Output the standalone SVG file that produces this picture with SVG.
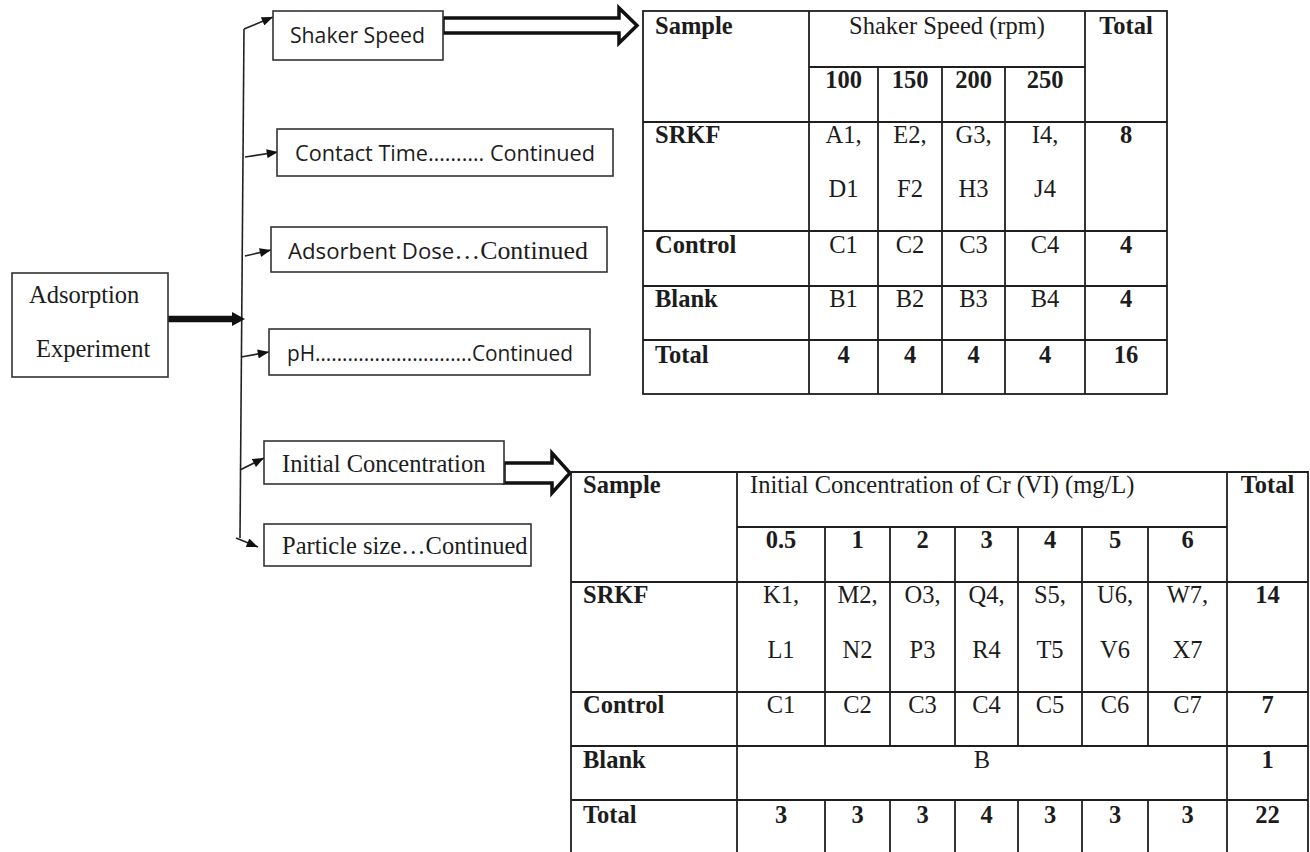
<svg xmlns="http://www.w3.org/2000/svg" width="1310" height="852" viewBox="0 0 1310 852">
<defs>
<marker id="ah" viewBox="0 0 10 8" refX="10" refY="4" markerWidth="12" markerHeight="9" markerUnits="userSpaceOnUse" orient="auto">
<path d="M0,0 L10,4 L0,8 Z" fill="#111"/>
</marker>
</defs>
<style>
.box{fill:#fff;stroke:#333;stroke-width:1.6}
.sans{font-family:"Open Sans","Liberation Sans",sans-serif;font-size:21px;fill:#1c1c1c}
.serif{font-family:"Liberation Serif","Times New Roman",serif;font-size:24.5px;fill:#1c1c1c}
.b{font-weight:bold}
.c{text-anchor:middle}
.tl{stroke:#1f1f1f;stroke-width:1.8;fill:none}
.conn{stroke:#222;stroke-width:1.6;fill:none}
.hollow{fill:#fff;stroke:#111;stroke-width:3.5;stroke-linejoin:miter}
</style>
<rect width="1310" height="852" fill="#fff"/>

<g id="connectors">
<path class="conn" d="M244,29 L240,538"/>
<line class="conn" x1="244" y1="29" x2="273" y2="17" marker-end="url(#ah)"/>
<line class="conn" x1="245" y1="157" x2="278" y2="152" marker-end="url(#ah)"/>
<line class="conn" x1="245" y1="256" x2="271" y2="250" marker-end="url(#ah)"/>
<line class="conn" x1="241" y1="357" x2="269" y2="352" marker-end="url(#ah)"/>
<line class="conn" x1="240" y1="470" x2="264" y2="458" marker-end="url(#ah)"/>
<line class="conn" x1="236" y1="538" x2="258" y2="547" marker-end="url(#ah)"/>
<line x1="168" y1="319" x2="234" y2="319" stroke="#111" stroke-width="6.5"/>
<path d="M232,312 L245,319 L232,326 Z" fill="#111"/>
<path class="hollow" d="M443,18 L619,18 L619,8 L637,25.5 L619,43 L619,33 L443,33 Z"/>
<path class="hollow" d="M504,463 L552,463 L552,453 L570,473 L552,493 L552,483 L504,483 Z"/>
</g>

<g id="node-adsorption">
<rect class="box" x="12" y="273" width="156" height="104"/>
<text class="serif" x="29" y="303">Adsorption</text>
<text class="serif" x="36" y="357">Experiment</text>
</g>

<g id="node-shaker">
<rect class="box" x="273" y="11" width="170" height="49"/>
<text class="sans" x="290" y="43" textLength="135" lengthAdjust="spacingAndGlyphs">Shaker Speed</text>
</g>

<g id="node-contact">
<rect class="box" x="277" y="129" width="336" height="47"/>
<text class="sans" x="295" y="161" textLength="300" lengthAdjust="spacingAndGlyphs">Contact Time………. Continued</text>
</g>

<g id="node-adsorbent">
<rect class="box" x="271" y="227" width="336" height="45"/>
<text class="sans" x="288" y="259" textLength="300" lengthAdjust="spacingAndGlyphs">Adsorbent Dose<tspan style="font-family:'Liberation Serif','Times New Roman',serif;font-size:24.5px">…Continued</tspan></text>
</g>

<g id="node-ph">
<rect class="box" x="269" y="329" width="321" height="46"/>
<text class="sans" x="287" y="361" textLength="286" lengthAdjust="spacingAndGlyphs">pH………………………..Continued</text>
</g>

<g id="node-initial">
<rect class="box" x="264" y="441" width="240" height="43"/>
<text class="serif" x="282" y="472">Initial Concentration</text>
</g>

<g id="node-particle">
<rect class="box" x="264" y="524" width="267" height="42"/>
<text class="serif" x="282" y="554">Particle size…Continued</text>
</g>

<g id="table-shaker">
<rect class="tl" x="643" y="11" width="524" height="383"/>
<line class="tl" x1="809" y1="11" x2="809" y2="394"/>
<line class="tl" x1="1085" y1="11" x2="1085" y2="394"/>
<line class="tl" x1="809" y1="67" x2="1085" y2="67"/>
<line class="tl" x1="878" y1="67" x2="878" y2="394"/>
<line class="tl" x1="942" y1="67" x2="942" y2="394"/>
<line class="tl" x1="1005" y1="67" x2="1005" y2="394"/>
<line class="tl" x1="643" y1="122" x2="1167" y2="122"/>
<line class="tl" x1="643" y1="231" x2="1167" y2="231"/>
<line class="tl" x1="643" y1="286" x2="1167" y2="286"/>
<line class="tl" x1="643" y1="340" x2="1167" y2="340"/>
<text class="serif b" x="655" y="34">Sample</text>
<text class="serif c" x="947" y="34">Shaker Speed (rpm)</text>
<text class="serif b c" x="1126" y="34">Total</text>
<text class="serif b c" x="843.5" y="88">100</text>
<text class="serif b c" x="910" y="88">150</text>
<text class="serif b c" x="973.5" y="88">200</text>
<text class="serif b c" x="1045" y="88">250</text>
<text class="serif b" x="655" y="143">SRKF</text>
<text class="serif c" x="843.5" y="143">A1,</text>
<text class="serif c" x="910" y="143">E2,</text>
<text class="serif c" x="973.5" y="143">G3,</text>
<text class="serif c" x="1045" y="143">I4,</text>
<text class="serif b c" x="1126" y="143">8</text>
<text class="serif c" x="843.5" y="197">D1</text>
<text class="serif c" x="910" y="197">F2</text>
<text class="serif c" x="973.5" y="197">H3</text>
<text class="serif c" x="1045" y="197">J4</text>
<text class="serif b" x="655" y="253">Control</text>
<text class="serif c" x="843.5" y="253">C1</text>
<text class="serif c" x="910" y="253">C2</text>
<text class="serif c" x="973.5" y="253">C3</text>
<text class="serif c" x="1045" y="253">C4</text>
<text class="serif b c" x="1126" y="253">4</text>
<text class="serif b" x="655" y="307">Blank</text>
<text class="serif c" x="843.5" y="307">B1</text>
<text class="serif c" x="910" y="307">B2</text>
<text class="serif c" x="973.5" y="307">B3</text>
<text class="serif c" x="1045" y="307">B4</text>
<text class="serif b c" x="1126" y="307">4</text>
<text class="serif b" x="655" y="363">Total</text>
<text class="serif b c" x="843.5" y="363">4</text>
<text class="serif b c" x="910" y="363">4</text>
<text class="serif b c" x="973.5" y="363">4</text>
<text class="serif b c" x="1045" y="363">4</text>
<text class="serif b c" x="1126" y="363">16</text>
</g>

<g id="table-concentration">
<path class="tl" d="M571,860 L571,472 L1308,472 L1308,860"/>
<line class="tl" x1="737" y1="472" x2="737" y2="860"/>
<line class="tl" x1="1227" y1="472" x2="1227" y2="860"/>
<line class="tl" x1="737" y1="527" x2="1227" y2="527"/>
<line class="tl" x1="825" y1="527" x2="825" y2="746"/>
<line class="tl" x1="890" y1="527" x2="890" y2="746"/>
<line class="tl" x1="955" y1="527" x2="955" y2="746"/>
<line class="tl" x1="1018" y1="527" x2="1018" y2="746"/>
<line class="tl" x1="1082" y1="527" x2="1082" y2="746"/>
<line class="tl" x1="1148" y1="527" x2="1148" y2="746"/>
<line class="tl" x1="825" y1="800" x2="825" y2="860"/>
<line class="tl" x1="890" y1="800" x2="890" y2="860"/>
<line class="tl" x1="955" y1="800" x2="955" y2="860"/>
<line class="tl" x1="1018" y1="800" x2="1018" y2="860"/>
<line class="tl" x1="1082" y1="800" x2="1082" y2="860"/>
<line class="tl" x1="1148" y1="800" x2="1148" y2="860"/>
<line class="tl" x1="571" y1="582" x2="1308" y2="582"/>
<line class="tl" x1="571" y1="692" x2="1308" y2="692"/>
<line class="tl" x1="571" y1="746" x2="1308" y2="746"/>
<line class="tl" x1="571" y1="800" x2="1308" y2="800"/>
<text class="serif b" x="583" y="493">Sample</text>
<text class="serif" x="750" y="493">Initial Concentration of Cr (VI) (mg/L)</text>
<text class="serif b c" x="1267.5" y="493">Total</text>
<text class="serif b c" x="781" y="548">0.5</text>
<text class="serif b c" x="857.5" y="548">1</text>
<text class="serif b c" x="922.5" y="548">2</text>
<text class="serif b c" x="986.5" y="548">3</text>
<text class="serif b c" x="1050" y="548">4</text>
<text class="serif b c" x="1115" y="548">5</text>
<text class="serif b c" x="1187.5" y="548">6</text>
<text class="serif b" x="583" y="603">SRKF</text>
<text class="serif c" x="781" y="603">K1,</text>
<text class="serif c" x="857.5" y="603">M2,</text>
<text class="serif c" x="922.5" y="603">O3,</text>
<text class="serif c" x="986.5" y="603">Q4,</text>
<text class="serif c" x="1050" y="603">S5,</text>
<text class="serif c" x="1115" y="603">U6,</text>
<text class="serif c" x="1187.5" y="603">W7,</text>
<text class="serif b c" x="1267.5" y="603">14</text>
<text class="serif c" x="781" y="658">L1</text>
<text class="serif c" x="857.5" y="658">N2</text>
<text class="serif c" x="922.5" y="658">P3</text>
<text class="serif c" x="986.5" y="658">R4</text>
<text class="serif c" x="1050" y="658">T5</text>
<text class="serif c" x="1115" y="658">V6</text>
<text class="serif c" x="1187.5" y="658">X7</text>
<text class="serif b" x="583" y="713">Control</text>
<text class="serif c" x="781" y="713">C1</text>
<text class="serif c" x="857.5" y="713">C2</text>
<text class="serif c" x="922.5" y="713">C3</text>
<text class="serif c" x="986.5" y="713">C4</text>
<text class="serif c" x="1050" y="713">C5</text>
<text class="serif c" x="1115" y="713">C6</text>
<text class="serif c" x="1187.5" y="713">C7</text>
<text class="serif b c" x="1267.5" y="713">7</text>
<text class="serif b" x="583" y="768">Blank</text>
<text class="serif c" x="982" y="768">B</text>
<text class="serif b c" x="1267.5" y="768">1</text>
<text class="serif b" x="583" y="823">Total</text>
<text class="serif b c" x="781" y="823">3</text>
<text class="serif b c" x="857.5" y="823">3</text>
<text class="serif b c" x="922.5" y="823">3</text>
<text class="serif b c" x="986.5" y="823">4</text>
<text class="serif b c" x="1050" y="823">3</text>
<text class="serif b c" x="1115" y="823">3</text>
<text class="serif b c" x="1187.5" y="823">3</text>
<text class="serif b c" x="1267.5" y="823">22</text>
</g>
</svg>
